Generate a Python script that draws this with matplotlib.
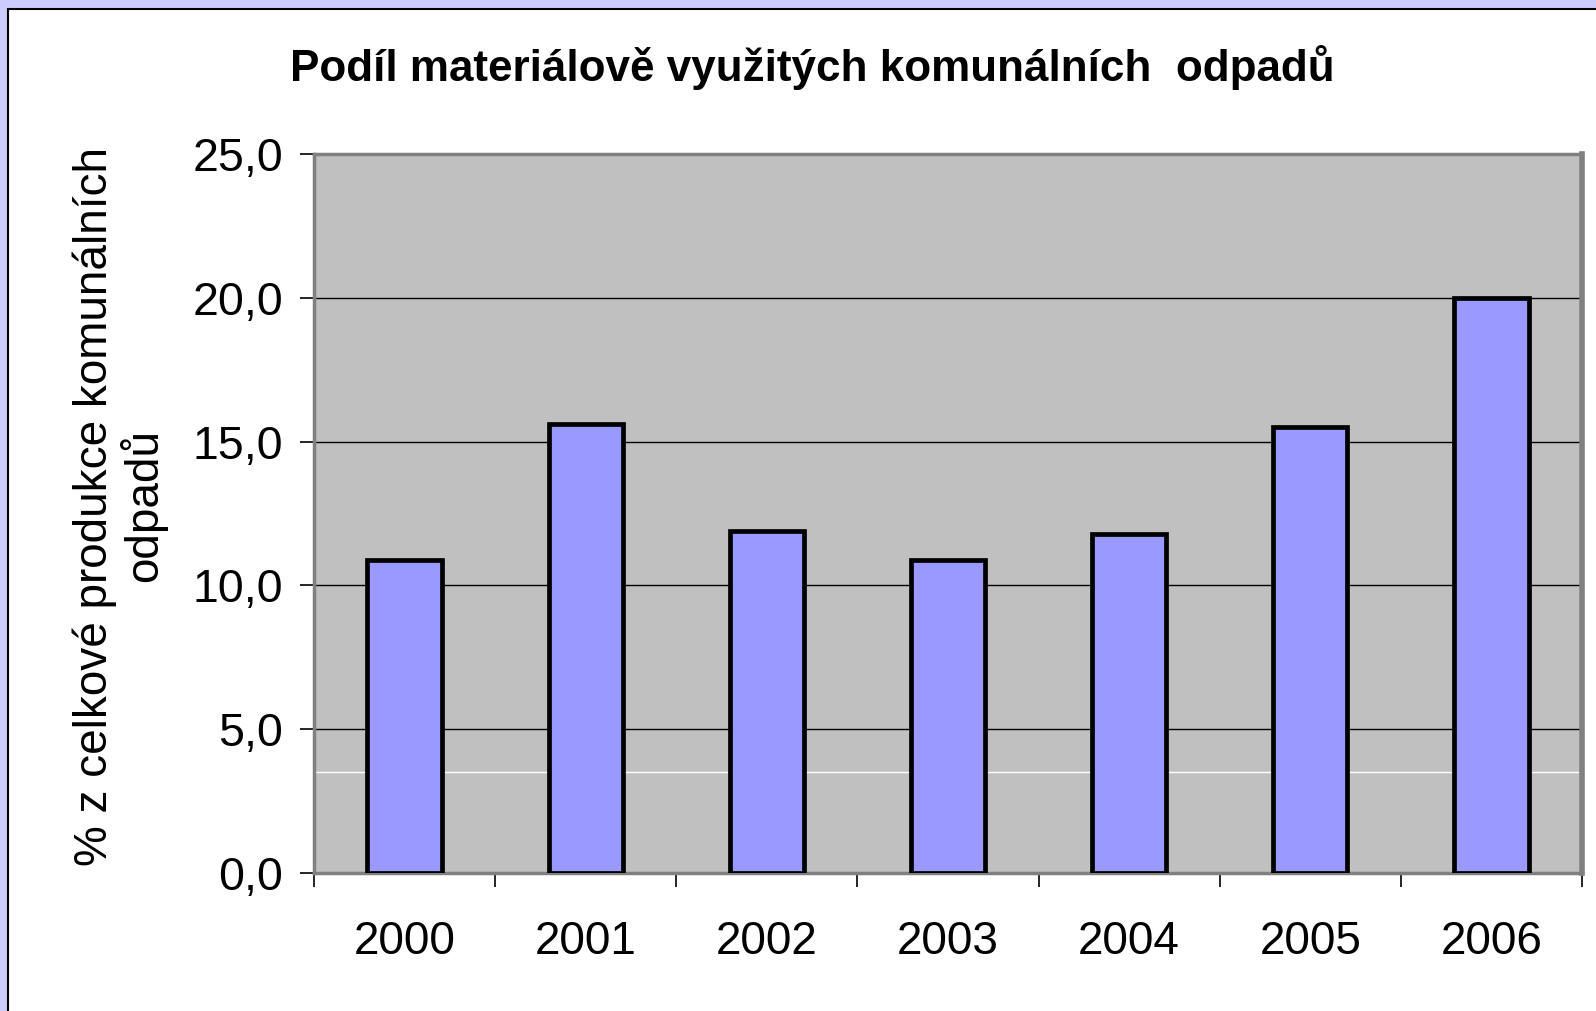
import matplotlib
matplotlib.use("Agg")
import matplotlib.pyplot as plt
from matplotlib.patches import Rectangle

# data
years = ["2000", "2001", "2002", "2003", "2004", "2005", "2006"]
share = [10.9, 15.6, 11.9, 10.9, 11.8, 15.5, 20.0]
y_ticks = [0, 5, 10, 15, 20, 25]
y_tick_labels = ["0,0", "5,0", "10,0", "15,0", "20,0", "25,0"]
stray_line = 3.5  # faint white line visible in the original plot area

title = "Podíl materiálově využitých komunálních  odpadů"
ylabel = "% z celkové produkce komunálních\nodpadů"

plt.rcParams["font.family"] = ["Liberation Sans", "DejaVu Sans"]

W, H = 1596, 1011
fig = plt.figure(figsize=(W / 100, H / 100), dpi=100, facecolor="#CCCCFF")

# white chart area with thin black frame over lavender background
fig.patches.append(Rectangle((8 / W, -0.01), 1.1, 1 - 9 / H + 0.01,
                             transform=fig.transFigure, facecolor="white",
                             edgecolor="black", linewidth=1.5, zorder=-5))

left, right, top, bottom = 314, 1582, 154, 873
ax = fig.add_axes([left / W, 1 - bottom / H, (right - left) / W, (bottom - top) / H])
ax.set_facecolor("#C0C0C0")

x = list(range(len(years)))
ax.bar(x, share, width=0.41, color="#9999FF", edgecolor="black",
       linewidth=3.4, zorder=3)

ax.set_xlim(-0.5, len(years) - 0.5)
ax.set_ylim(0, 25)

# gridlines
for v in y_ticks[1:-1]:
    ax.axhline(v, color="black", linewidth=1.0, zorder=1)
ax.axhline(stray_line, color="white", linewidth=1.0, zorder=1)

ax.set_yticks(y_ticks)
ax.set_yticklabels(y_tick_labels)
ax.tick_params(axis="y", direction="out", length=10, width=1.2, pad=12,
               labelsize=33.5, color="black")

# category boundaries get the tick marks, labels sit in between
ax.set_xticks([i - 0.5 for i in range(len(years) + 1)])
ax.set_xticklabels([])
ax.set_xticks(x, minor=True)
ax.set_xticklabels(years, minor=True)
ax.tick_params(axis="x", which="major", direction="out", length=10, width=1.2)
ax.tick_params(axis="x", which="minor", length=0, pad=34, labelsize=33)

for side in ["left", "bottom", "top"]:
    ax.spines[side].set_color("#808080")
    ax.spines[side].set_linewidth(2.5)
ax.spines["right"].set_color("#808080")
ax.spines["right"].set_linewidth(4)

fig.text(812 / W, 1 - 68 / H, title, ha="center", va="center",
         fontsize=31.7, fontweight="bold")
fig.text(120 / W, 1 - 506 / H, ylabel, ha="center", va="center",
         rotation=90, fontsize=33, multialignment="center", linespacing=1.07)

fig.savefig("out.png", dpi=100, facecolor=fig.get_facecolor())
